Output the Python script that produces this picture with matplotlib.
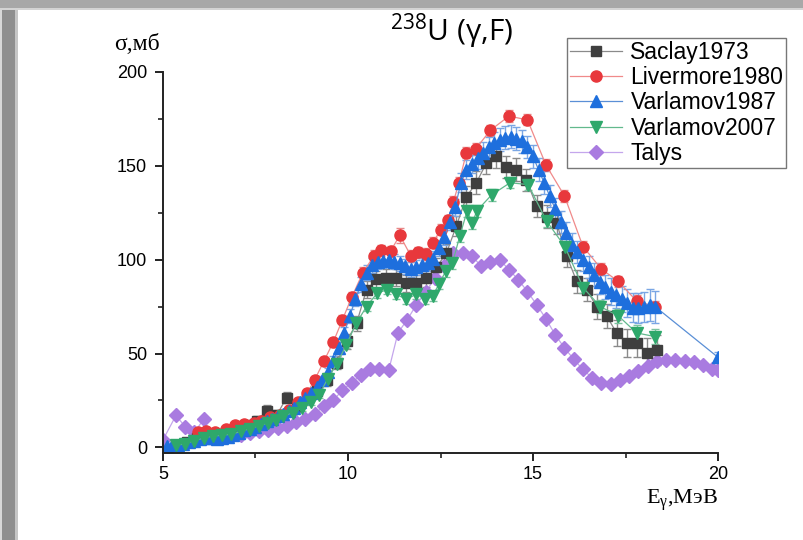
import matplotlib
matplotlib.use("Agg")
import matplotlib.pyplot as plt
from matplotlib.patches import Rectangle
from matplotlib.ticker import MultipleLocator

# 238U (gamma,F) photofission cross sections

saclay_e = [5.37, 5.64, 5.91, 6.18, 6.45, 6.72, 6.99, 7.26, 7.53,
            7.8, 8.07, 8.34, 8.61, 8.88, 9.15, 9.42, 9.69, 9.96, 10.23,
            10.5, 10.77, 11.04, 11.31, 11.58, 11.85, 12.12, 12.39, 12.66, 12.93,
            13.2, 13.47, 13.74, 14.01, 14.28, 14.55, 14.82, 15.1, 15.37, 15.64,
            15.91, 16.18, 16.45, 16.72, 16.99, 17.26, 17.53, 17.8, 18.07, 18.34]
saclay_s = [1, 3, 5, 6, 7, 8, 10, 12, 14,
            19.5, 17, 26.5, 22, 26, 30, 36, 45, 56.5, 66,
            84, 89.5, 90.5, 90.5, 87.5, 87.5, 90, 96, 103.5, 118,
            133.5, 141, 151.5, 155, 149.5, 148, 142.5, 128.5, 123, 119.5,
            102, 88.5, 84, 75, 70, 61, 55.5, 55.5, 50.5, 52]
saclay_err = [1, 1, 1.5, 1.5, 1.5, 2, 2, 2, 2.5,
              3, 3, 3, 3, 3, 3, 3.5, 3.5, 4, 4,
              4.5, 4.5, 4.5, 4.5, 4.5, 4.5, 4.5, 5, 5, 5.5,
              5.5, 6, 6, 6, 6, 6, 6, 6, 6, 6,
              6, 6, 6, 6.5, 6.5, 7, 7.5, 7.5, 8, 8]

liver_e = [5.95, 6.15, 6.4, 6.7, 6.95, 7.2, 7.45, 7.65, 7.9, 8.15,
           8.4, 8.65, 8.9, 9.1, 9.35, 9.6, 9.85, 10.1, 10.4, 10.7,
           10.9, 11.15, 11.4, 11.7, 11.9, 12.1, 12.3, 12.5, 12.7, 12.85,
           13.0, 13.2, 13.45, 13.85, 14.35, 14.85, 15.35, 15.85, 16.35, 16.85,
           17.3, 17.8, 18.3]
liver_s = [8, 8.5, 8, 10, 12, 12.5, 13, 14, 16, 17.5,
           20, 24, 29, 36, 46, 56, 68, 80, 93, 102,
           105, 104.5, 113, 102, 104, 103, 109, 116, 121, 131,
           141, 157, 159, 169, 176.5, 174.5, 150.5, 134, 107, 95,
           88.5, 78, 75]
liver_err = [1, 1, 1, 1, 1, 1, 1, 1, 1.5, 1.5,
             1.5, 2, 2, 2, 2, 2.5, 2.5, 3, 3, 3,
             3, 3, 4, 3, 3, 3, 3, 3, 3, 3,
             3, 3, 3, 3, 3, 3, 3, 3, 3, 3,
             3, 3, 3]

v87_e = [5.10, 5.25, 5.40, 5.55, 5.70, 5.85, 6.00, 6.15, 6.30, 6.45, 6.60, 6.75, 6.90,
         7.05, 7.20, 7.35, 7.50, 7.65, 7.80, 7.95, 8.10, 8.25, 8.40, 8.55, 8.70, 8.85,
         9.00, 9.15, 9.30, 9.45, 9.60, 9.75, 9.90, 10.05, 10.20, 10.35, 10.50, 10.65, 10.80,
         10.95, 11.10, 11.25, 11.40, 11.55, 11.70, 11.85, 12.00, 12.15, 12.30, 12.45, 12.60, 12.75,
         12.90, 13.05, 13.20, 13.35, 13.50, 13.65, 13.80, 13.95, 14.10, 14.25, 14.40, 14.55, 14.70,
         14.85, 15.00, 15.15, 15.30, 15.45, 15.60, 15.75, 15.90, 16.05, 16.20, 16.35, 16.50, 16.65,
         16.80, 16.95, 17.10, 17.25, 17.40, 17.55, 17.70, 17.85, 18.00, 18.15, 18.30, 20.0]
v87_s = [0.5, 1, 1.5, 2, 3, 3.5, 4.5, 5, 5, 4.5, 5, 5.5, 6.5,
         7.5, 9, 10, 11, 12.5, 14, 15, 16.5, 18, 19.5, 21, 24, 26.5,
         29, 32, 36, 40, 46, 53, 61, 70, 79, 87, 93, 97, 99,
         99.5, 100, 99, 98, 96.5, 95, 96, 97, 98, 100.5, 106, 112, 120,
         128, 141, 148, 151, 154, 157, 160, 162, 164, 165, 165.5, 164.5, 163,
         160, 155, 148, 141, 134, 127, 120, 114, 108, 104, 100, 96, 92,
         88, 85.5, 83, 81, 79, 77, 74.5, 74, 75, 76, 75, 48]
v87_err = [0.5, 0.5, 0.5, 0.5, 0.5, 0.5, 0.5, 0.5, 0.5, 0.5, 0.5, 0.5, 0.5,
           1, 1, 1, 1, 1, 1, 1, 1, 1, 1, 1, 1, 1,
           2, 2, 2, 2.5, 2.5, 3, 3, 3.5, 3.5, 4, 4, 4, 4,
           4, 4, 4, 4, 4, 4, 4, 4, 4, 4, 4, 4, 4,
           4.5, 5, 5, 5, 5.5, 5.5, 5.5, 6, 6, 6, 6, 6, 6,
           6, 6, 6, 6, 6, 6, 6, 6, 6, 6, 6, 6, 6,
           6.5, 6.5, 7, 7, 7, 7.5, 7.5, 8, 8, 8.5, 8.5, 3]

v07_e = [5.35, 5.6, 5.85, 6.1, 6.35, 6.6, 6.85, 7.1, 7.35, 7.6,
         7.85, 8.05, 8.25, 8.5, 8.75, 9.0, 9.22, 9.45, 9.7, 9.95,
         10.22, 10.5, 10.78, 11.05, 11.3, 11.57, 11.85, 12.08, 12.3, 12.45,
         12.65, 12.82, 13.02, 13.22, 13.36, 13.48, 13.88, 14.38, 14.87, 15.37,
         15.86, 16.36, 16.82, 17.31, 17.8, 18.3]
v07_s = [1, 2, 3.5, 5, 6, 6.5, 7, 8.5, 10, 11.5,
         13, 14.5, 16.5, 18.5, 21, 24, 28, 36.5, 44.5, 54.5,
         66, 75, 82, 84, 81.5, 79, 81.5, 79, 80.5, 87,
         94, 98, 112.5, 126, 119.5, 126, 134.5, 141, 140, 120.5,
         107, 85, 75, 70, 61, 59]
v07_err = [1, 1, 1, 1, 1, 1, 1, 1, 1, 1,
           1.5, 1.5, 1.5, 1.5, 1.5, 1.5, 1.5, 1.5, 1.5, 1.5,
           2.5, 2.5, 2.5, 2.5, 2.5, 2.5, 2.5, 2.5, 2.5, 2.5,
           3, 3, 3, 3, 3, 3, 3, 3, 3, 3,
           3, 3, 3.5, 3.5, 4, 4]

talys_e = [5.0, 5.35, 5.6, 5.85, 6.1, 6.35, 6.6, 6.85, 7.1, 7.35,
           7.6, 7.85, 8.1, 8.35, 8.6, 8.85, 9.1, 9.35, 9.6, 9.85,
           10.1, 10.35, 10.6, 10.85, 11.1, 11.35, 11.6, 11.85, 12.1, 12.35,
           12.6, 12.85, 13.1, 13.35, 13.6, 13.85, 14.1, 14.35, 14.6, 14.85,
           15.1, 15.35, 15.6, 15.85, 16.1, 16.35, 16.6, 16.85, 17.1, 17.35,
           17.6, 17.85, 18.1, 18.35, 18.6, 18.85, 19.1, 19.35, 19.6, 19.85,
           20.0]
talys_s = [4, 17, 11, 8, 15, 5, 6, 6, 6.5, 7.5,
           8.5, 9.5, 10.5, 11.5, 13.5, 15, 18, 22, 25, 30.5,
           34.5, 38.5, 41.5, 42, 41, 61, 68, 76, 83, 90,
           96.5, 103.5, 103.5, 102, 96.5, 99, 100, 94.7, 89.4, 83,
           76, 68.5, 60, 53, 47, 41.5, 37, 34.5, 34, 36,
           38, 40.6, 43.3, 46, 46.8, 46.8, 46, 45.4, 44, 42,
           41]

fig = plt.figure(figsize=(8.04, 5.40), dpi=100)
ax = fig.add_axes([163 / 804, 1 - 453 / 540, 555 / 804, 381 / 540])

# series: x, y, err, label, marker, size, face colour, line colour, error colour
series = [
    (saclay_e, saclay_s, saclay_err, "Saclay1973", "s", 7, "#3f3f3f", "#8a8a8a", "#8a8a8a"),
    (liver_e, liver_s, liver_err, "Livermore1980", "o", 8, "#e8383c", "#f08a8a", "#e88888"),
    (v87_e, v87_s, v87_err, "Varlamov1987", "^", 8, "#1e6fdd", "#5a8fd6", "#7aa6e4"),
    (v07_e, v07_s, v07_err, "Varlamov2007", "v", 8, "#2ea86b", "#62b98d", "#7cc4a0"),
]
handles = []
labels = []
for x, y, e, lab, m, ms, fc, lc, ec in series:
    h = ax.errorbar(x, y, yerr=e, fmt="-", color=lc, lw=0.9, marker=m, ms=ms,
                    mfc=fc, mec=fc, ecolor=ec, elinewidth=1.0, capsize=3,
                    capthick=1.0)
    handles.append(h[0])
    labels.append(lab)
t, = ax.plot(talys_e, talys_s, "-", color="#c4a6ec", lw=0.9, marker="D", ms=7,
             mfc="#a97be0", mec="#a97be0")
handles.append(t)
labels.append("Talys")

ax.set_xlim(5, 20)
ax.set_ylim(-3, 200)
ax.xaxis.set_major_locator(MultipleLocator(5))
ax.xaxis.set_minor_locator(MultipleLocator(2.5))
ax.yaxis.set_major_locator(MultipleLocator(50))
ax.yaxis.set_minor_locator(MultipleLocator(25))
for s in ["top", "right"]:
    ax.spines[s].set_visible(False)
for s in ["left", "bottom"]:
    ax.spines[s].set_linewidth(1.4)
    ax.spines[s].set_color("#222222")
ax.tick_params(which="major", direction="out", length=5.5, width=1.4,
               color="#222222", labelsize=13, pad=4)
ax.tick_params(axis="y", which="major", pad=6)
ax.tick_params(which="minor", direction="out", length=3.5, width=1.2,
               color="#222222")
for lbl in ax.get_xticklabels() + ax.get_yticklabels():
    lbl.set_family("Liberation Sans")

leg = ax.legend(handles, labels,
                loc="upper left", bbox_to_anchor=(567 / 804, 1 - 38 / 540),
                bbox_transform=fig.transFigure, frameon=True, fancybox=False,
                prop={"family": "Liberation Sans", "size": 16.5},
                handlelength=2.3, labelspacing=0.1, borderpad=0.12,
                handletextpad=0.35, borderaxespad=0)
leg.get_frame().set_edgecolor("#555555")
leg.get_frame().set_linewidth(1.0)

fig.text(452 / 804, 1 - 31 / 540, r"$\mathregular{^{238}}$U (γ,F)",
         family="Open Sans", fontsize=21.5, ha="center", va="center")
fig.text(137 / 804, 1 - 45 / 540, "σ,мб", family="Liberation Serif",
         fontsize=17, ha="center", va="center")
fig.text(682 / 804, 1 - 500 / 540, r"E$\mathregular{_{γ}}$,МэВ",
         family="Liberation Serif", fontsize=16, ha="center", va="center")

# grey screenshot frame on the left and top edges
frame = [
    (0, 0, 2 / 804, 1, "#d8d8d8"),
    (2 / 804, 0, 13 / 804, 1, "#8f8f8f"),
    (15 / 804, 0, 3 / 804, 1, "#c6c6c6"),
    (0, 1 - 8 / 540, 1, 8 / 540, "#a8a8a8"),
    (0, 1 - 10 / 540, 1, 2 / 540, "#d4d4d4"),
]
for x0, y0, w, h, c in frame:
    fig.add_artist(Rectangle((x0, y0), w, h, transform=fig.transFigure,
                             facecolor=c, edgecolor="none", zorder=-5))

fig.savefig("out.png", dpi=100)
